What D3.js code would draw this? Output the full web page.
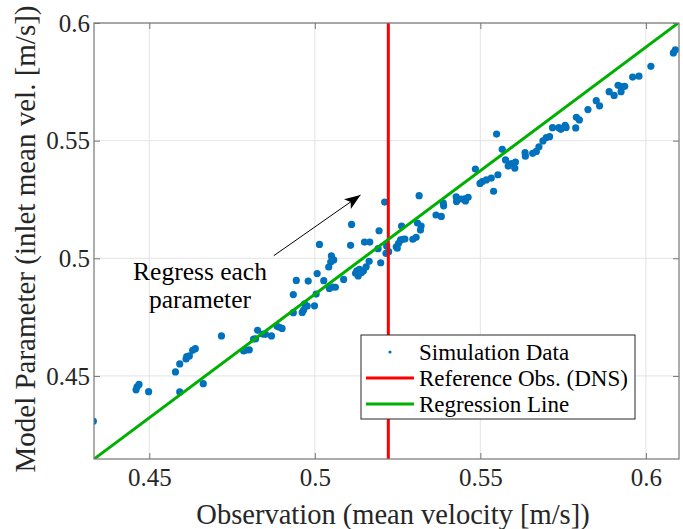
<!DOCTYPE html>
<html>
<head>
<meta charset="utf-8">
<script src="https://cdn.jsdelivr.net/npm/d3@7"></script>
<style>
  html, body { margin: 0; padding: 0; background: #fff; }
  svg { display: block; font-family: "Liberation Serif", "Times New Roman", serif; }
</style>
</head>
<body>
<svg id="chart" width="683" height="529"></svg>
<script>
// Observed mean velocity [m/s] for each simulation run
const obsX = [
  0.4331, 0.4460, 0.4463, 0.4469, 0.4498, 0.4579, 0.4592, 0.4611, 0.4613, 0.4621,
  0.4631, 0.4639, 0.4592, 0.4663, 0.4718, 0.4785, 0.4792, 0.4802, 0.4815, 0.4821,
  0.4827, 0.4843, 0.4851, 0.4869, 0.4886, 0.4893, 0.4901, 0.4935, 0.4962, 0.4966,
  0.4969, 0.4977, 0.4999, 0.4935, 0.5004, 0.4944, 0.4980, 0.5027, 0.5007, 0.5042,
  0.5048, 0.5057, 0.5050, 0.5014, 0.5108, 0.5150, 0.5166, 0.5111, 0.5194, 0.5211,
  0.5044, 0.5054, 0.5062, 0.5087, 0.5164, 0.5155, 0.5147, 0.5135, 0.5127, 0.5123,
  0.5131, 0.5141, 0.5191, 0.5199, 0.5217, 0.5215, 0.5223, 0.5246, 0.5249, 0.5253,
  0.5259, 0.5266, 0.5272, 0.5262, 0.5296, 0.5306, 0.5310, 0.5321, 0.5319, 0.5315,
  0.5366, 0.5382, 0.5388, 0.5389, 0.5427, 0.5428, 0.5442, 0.5453, 0.5463, 0.5455,
  0.5485, 0.5499, 0.5506, 0.5518, 0.5533, 0.5553, 0.5540, 0.5549, 0.5566, 0.5576,
  0.5584, 0.5593, 0.5606, 0.5604, 0.5635, 0.5636, 0.5658, 0.5669, 0.5677, 0.5689,
  0.5699, 0.5709, 0.5718, 0.5737, 0.5743, 0.5756, 0.5759, 0.5788, 0.5790, 0.5799,
  0.5825, 0.5850, 0.5860, 0.5889, 0.5904, 0.5916, 0.5925, 0.5925, 0.5936, 0.5960,
  0.5979, 0.6015, 0.6083, 0.6089
];
// Model parameter (inlet mean velocity [m/s]) for the same runs
const paramY = [
  0.4307, 0.4441, 0.4454, 0.4464, 0.4433, 0.4517, 0.4551, 0.4572, 0.4582, 0.4585,
  0.4609, 0.4616, 0.4432, 0.4467, 0.4670, 0.4606, 0.4610, 0.4611, 0.4657, 0.4658,
  0.4694, 0.4678, 0.4677, 0.4670, 0.4711, 0.4707, 0.4702, 0.4769, 0.4770, 0.4780,
  0.4806, 0.4797, 0.4798, 0.4846, 0.4848, 0.4906, 0.4903, 0.4905, 0.4935, 0.4963,
  0.4984, 0.4993, 0.5010, 0.5059, 0.5055, 0.5069, 0.5069, 0.5144, 0.5117, 0.5239,
  0.4872, 0.4878, 0.4877, 0.4910, 0.4987, 0.4964, 0.4947, 0.4953, 0.4947, 0.4936,
  0.4925, 0.4940, 0.5041, 0.4981, 0.5052, 0.5021, 0.5028, 0.5049, 0.5043, 0.5064,
  0.5078, 0.5081, 0.5082, 0.5137, 0.5081, 0.5089, 0.5150, 0.5137, 0.5120, 0.5266,
  0.5184, 0.5178, 0.5235, 0.5223, 0.5261, 0.5241, 0.5252, 0.5253, 0.5259, 0.5244,
  0.5379, 0.5318, 0.5326, 0.5333, 0.5341, 0.5355, 0.5285, 0.5528, 0.5463, 0.5418,
  0.5392, 0.5402, 0.5409, 0.5383, 0.5449, 0.5434, 0.5446, 0.5454, 0.5474, 0.5499,
  0.5513, 0.5517, 0.5555, 0.5555, 0.5548, 0.5565, 0.5556, 0.5554, 0.5599, 0.5588,
  0.5632, 0.5670, 0.5648, 0.5708, 0.5692, 0.5735, 0.5730, 0.5708, 0.5731, 0.5770,
  0.5774, 0.5816, 0.5873, 0.5886
];

// Reference observation from DNS and the fitted regression line
const referenceObs = 0.5222;
const regSlope = 1.05;
const regIntercept = -0.04027;

const xTicks = [0.45, 0.5, 0.55, 0.6];
const xTickLabels = ["0.45", "0.5", "0.55", "0.6"];
const yTicks = [0.45, 0.5, 0.55, 0.6];
const yTickLabels = ["0.45", "0.5", "0.55", "0.6"];

const legendLabels = ["Simulation Data", "Reference Obs. (DNS)", "Regression Line"];

const xLabel = "Observation (mean velocity [m/s])";
const yLabel = "Model Parameter (inlet mean vel. [m/s])";
const noteLines = ["Regress each", "parameter"];

// ---- layout ----
const plot = { left: 94, top: 23, right: 679, bottom: 459 };
const xDomain = [0.4333, 0.6100];
const yDomain = [0.4147, 0.6000];

const colors = { data: "#0072bd", ref: "#ff0000", reg: "#00b000", axis: "#777777", grid: "#e3e3e3" };

const svg = d3.select("#chart");

const x = d3.scaleLinear().domain(xDomain).range([plot.left, plot.right]);
const y = d3.scaleLinear().domain(yDomain).range([plot.bottom, plot.top]);

svg.append("defs").append("clipPath").attr("id", "plot-clip")
  .append("rect")
  .attr("x", plot.left).attr("y", plot.top)
  .attr("width", plot.right - plot.left).attr("height", plot.bottom - plot.top);

// grid lines
const grid = svg.append("g").attr("class", "grid");
grid.selectAll("line.gx").data(xTicks).join("line")
  .attr("x1", d => x(d)).attr("x2", d => x(d))
  .attr("y1", plot.top).attr("y2", plot.bottom)
  .attr("stroke", colors.grid).attr("stroke-width", 1);
grid.selectAll("line.gy").data(yTicks).join("line")
  .attr("y1", d => y(d)).attr("y2", d => y(d))
  .attr("x1", plot.left).attr("x2", plot.right)
  .attr("stroke", colors.grid).attr("stroke-width", 1);

// scatter of simulation runs
const pts = obsX.map((v, i) => ({ x: v, y: paramY[i] }));
svg.append("g").attr("clip-path", "url(#plot-clip)")
  .selectAll("circle").data(pts).join("circle")
  .attr("cx", d => x(d.x)).attr("cy", d => y(d.y))
  .attr("r", 3.6).attr("fill", colors.data);

// reference observation (vertical line)
svg.append("line")
  .attr("x1", x(referenceObs)).attr("x2", x(referenceObs))
  .attr("y1", plot.top).attr("y2", plot.bottom)
  .attr("stroke", colors.ref).attr("stroke-width", 3);

// regression line
const regLine = d3.line().x(d => x(d)).y(d => y(regSlope * d + regIntercept));
svg.append("path").attr("clip-path", "url(#plot-clip)")
  .datum(xDomain)
  .attr("d", regLine)
  .attr("fill", "none").attr("stroke", colors.reg).attr("stroke-width", 3);

// axes: ticks point inward, labels outside, box on all four sides
const tickLen = 6;
const axisBottom = d3.axisBottom(x).tickValues(xTicks).tickFormat((d, i) => xTickLabels[i])
  .tickSizeInner(-tickLen).tickSizeOuter(0).tickPadding(13);
const axisTop = d3.axisTop(x).tickValues(xTicks).tickFormat("").tickSizeInner(-tickLen).tickSizeOuter(0);
const axisLeft = d3.axisLeft(y).tickValues(yTicks).tickFormat((d, i) => yTickLabels[i])
  .tickSizeInner(-tickLen).tickSizeOuter(0).tickPadding(14);
const axisRight = d3.axisRight(y).tickValues(yTicks).tickFormat("").tickSizeInner(-tickLen).tickSizeOuter(0);

function styleAxis(g) {
  g.select(".domain").remove();
  g.selectAll(".tick line").attr("stroke", colors.axis);
  g.selectAll(".tick text").attr("fill", "#262626")
    .style("font-family", "'Liberation Serif', serif").style("font-size", "25px");
}

svg.append("g").attr("transform", `translate(0,${plot.bottom})`).call(axisBottom).call(styleAxis)
  .selectAll(".tick text").attr("dy", "0.55em");
svg.append("g").attr("transform", `translate(0,${plot.top})`).call(axisTop).call(styleAxis);
svg.append("g").attr("transform", `translate(${plot.left},0)`).call(axisLeft).call(styleAxis)
  .selectAll(".tick text").attr("dy", "0.33em").attr("x", -4);
svg.append("g").attr("transform", `translate(${plot.right},0)`).call(axisRight).call(styleAxis);

svg.append("rect")
  .attr("x", plot.left).attr("y", plot.top)
  .attr("width", plot.right - plot.left).attr("height", plot.bottom - plot.top)
  .attr("fill", "none").attr("stroke", colors.axis).attr("stroke-width", 1.2);

// axis titles
svg.append("text")
  .attr("x", 393).attr("y", 524)
  .attr("text-anchor", "middle").attr("fill", "#262626")
  .style("font-size", "28.5px").text(xLabel);
svg.append("text")
  .attr("transform", `translate(35,${(plot.top + plot.bottom) / 2 - 2}) rotate(-90)`)
  .attr("text-anchor", "middle").attr("fill", "#262626")
  .style("font-size", "29px").text(yLabel);

// annotation with arrow
svg.append("defs").append("marker")
  .attr("id", "arrowhead").attr("viewBox", "0 0 16 12")
  .attr("refX", 16).attr("refY", 6)
  .attr("markerWidth", 16).attr("markerHeight", 12)
  .attr("markerUnits", "userSpaceOnUse").attr("orient", "auto")
  .append("path").attr("d", "M0,0 L16,6 L0,12 L4,6 Z").attr("fill", "#000");

const arrowFrom = { x: 0.4876, y: 0.5011 };
const arrowTo = { x: 0.5138, y: 0.5269 };
svg.append("line")
  .attr("x1", x(arrowFrom.x)).attr("y1", y(arrowFrom.y))
  .attr("x2", x(arrowTo.x)).attr("y2", y(arrowTo.y))
  .attr("stroke", "#000").attr("stroke-width", 1)
  .attr("marker-end", "url(#arrowhead)");

const note = svg.append("text").attr("text-anchor", "middle").attr("fill", "#000")
  .style("font-size", "25.5px");
noteLines.forEach((t, i) => {
  note.append("tspan").attr("x", 200).attr("y", 280 + i * 28).text(t);
});

// legend
const lg = svg.append("g");
lg.append("rect").attr("x", 361).attr("y", 335).attr("width", 274).attr("height", 84)
  .attr("fill", "#fff").attr("stroke", "#262626").attr("stroke-width", 1);
const rowY = [352, 378, 404];
lg.append("circle").attr("cx", 390).attr("cy", rowY[0]).attr("r", 1.6).attr("fill", colors.data);
lg.append("line").attr("x1", 366).attr("x2", 414).attr("y1", rowY[1]).attr("y2", rowY[1])
  .attr("stroke", colors.ref).attr("stroke-width", 3);
lg.append("line").attr("x1", 366).attr("x2", 414).attr("y1", rowY[2]).attr("y2", rowY[2])
  .attr("stroke", colors.reg).attr("stroke-width", 3);
lg.selectAll("text").data(legendLabels).join("text")
  .attr("x", 419).attr("y", (d, i) => rowY[i] + 7.5)
  .attr("fill", "#000").style("font-size", "23px")
  .text(d => d);
</script>
</body>
</html>
